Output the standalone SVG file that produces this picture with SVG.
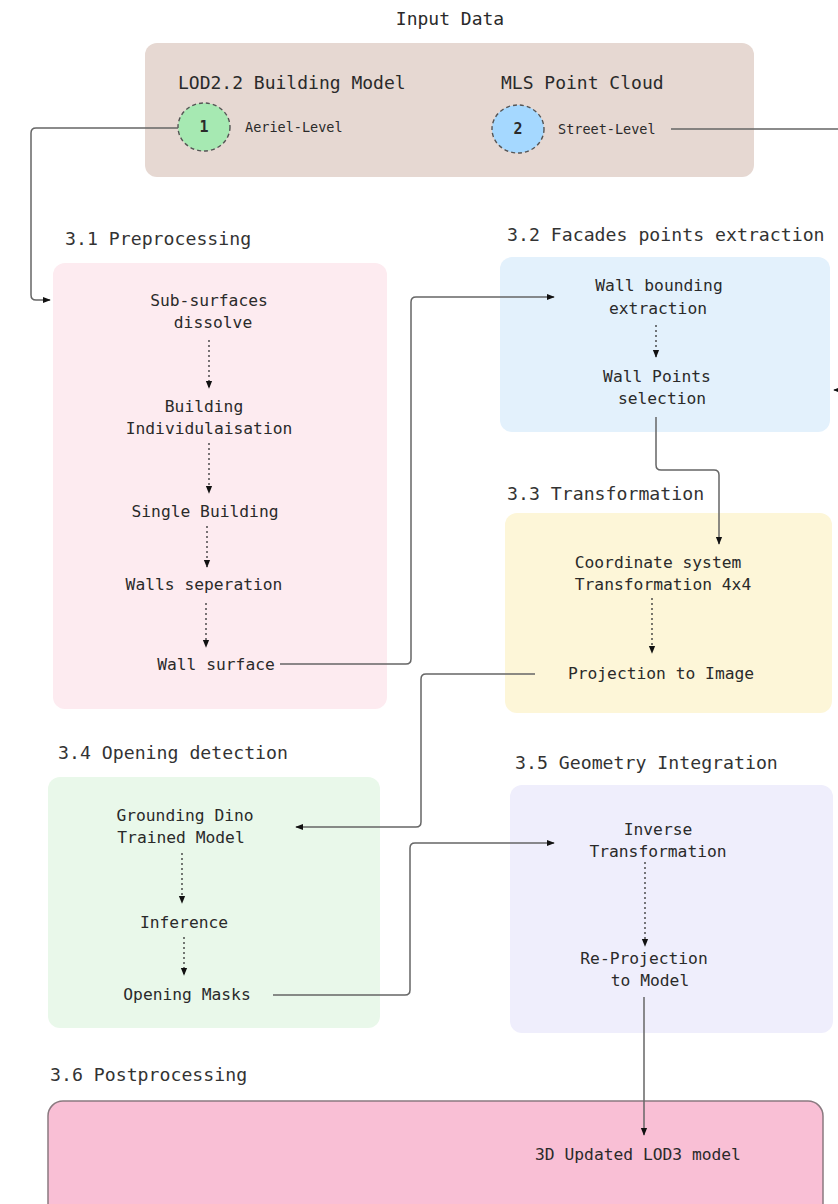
<svg xmlns="http://www.w3.org/2000/svg" width="838" height="1204" viewBox="0 0 838 1204">
<defs>
<style>
.t{font-family:"DejaVu Sans Mono","Liberation Mono",monospace;fill:#2a2a2a;text-anchor:middle;dominant-baseline:central}
.n{font-size:16.3px}
.h{font-size:18.2px;text-anchor:start;fill:#333}
.s{font-size:13.5px;text-anchor:start}
.c{fill:none;stroke:#666;stroke-width:1.5}
.d{fill:none;stroke:#333;stroke-width:1.3;stroke-dasharray:2 3}
</style>
<marker id="ar" viewBox="0 0 10 10" refX="9" refY="5" markerWidth="8" markerHeight="8" markerUnits="userSpaceOnUse" orient="auto">
<path d="M0,1 L10,5 L0,9 Z" fill="#111"/>
</marker>
</defs>
<rect width="838" height="1204" fill="#ffffff"/>

<g id="input">
<text class="t" x="450" y="18" style="font-size:18px">Input Data</text>
<rect x="145" y="43" width="609" height="134" rx="12" fill="#e6d8d2"/>
<text class="t h" x="178" y="82" style="font-size:18px;fill:#2a2a2a">LOD2.2 Building Model</text>
<text class="t h" x="501" y="82" style="font-size:18px;fill:#2a2a2a">MLS Point Cloud</text>
</g>
<g id="n1">
<ellipse cx="204" cy="127" rx="26" ry="24" fill="#a6e9b2" stroke="#555" stroke-width="1.4" stroke-dasharray="4 3"/>
<text class="t" x="204" y="127" style="font-size:15px;font-weight:bold">1</text>
<text class="t s" x="245" y="127">Aeriel-Level</text>
</g>
<g id="n2">
<ellipse cx="518" cy="129" rx="26" ry="24" fill="#a5d8ff" stroke="#555" stroke-width="1.4" stroke-dasharray="4 3"/>
<text class="t" x="518" y="129" style="font-size:15px;font-weight:bold">2</text>
<text class="t s" x="558" y="129">Street-Level</text>
</g>

<g id="preprocessing">
<text class="t h" x="65" y="238">3.1 Preprocessing</text>
<rect x="53" y="263" width="334" height="446" rx="12" fill="#fdebf0"/>
<text class="t n" x="209" y="300">Sub-surfaces</text>
<text class="t n" x="213" y="322">dissolve</text>
<text class="t n" x="204" y="406">Building</text>
<text class="t n" x="209" y="428">Individulaisation</text>
<text class="t n" x="205" y="511">Single Building</text>
<text class="t n" x="204" y="584">Walls seperation</text>
<text class="t n" x="216" y="664">Wall surface</text>
</g>

<g id="facades">
<text class="t h" x="507" y="234">3.2 Facades points extraction</text>
<rect x="500" y="257" width="330" height="175" rx="12" fill="#e3f1fc"/>
<text class="t n" x="659" y="285">Wall bounding</text>
<text class="t n" x="658" y="308">extraction</text>
<text class="t n" x="657" y="376">Wall Points</text>
<text class="t n" x="662" y="398">selection</text>
</g>

<g id="transformation">
<text class="t h" x="507" y="493">3.3 Transformation</text>
<rect x="505" y="513" width="327" height="200" rx="12" fill="#fdf6d8"/>
<text class="t n" x="658" y="562">Coordinate system</text>
<text class="t n" x="663" y="584">Transformation 4x4</text>
<text class="t n" x="661" y="673">Projection to Image</text>
</g>

<g id="opening">
<text class="t h" x="58" y="752">3.4 Opening detection</text>
<rect x="48" y="777" width="332" height="251" rx="12" fill="#e9f8ea"/>
<text class="t n" x="185" y="815">Grounding Dino</text>
<text class="t n" x="181" y="837">Trained Model</text>
<text class="t n" x="184" y="922">Inference</text>
<text class="t n" x="187" y="994">Opening Masks</text>
</g>

<g id="geometry">
<text class="t h" x="515" y="762">3.5 Geometry Integration</text>
<rect x="510" y="785" width="323" height="248" rx="12" fill="#efeefc"/>
<text class="t n" x="658" y="829">Inverse</text>
<text class="t n" x="658" y="851">Transformation</text>
<text class="t n" x="644" y="958">Re-Projection</text>
<text class="t n" x="650" y="980">to Model</text>
</g>

<g id="postprocessing">
<text class="t h" x="50" y="1074">3.6 Postprocessing</text>
<rect x="48" y="1101" width="775" height="120" rx="15" fill="#f9bfd5" stroke="#8a7a80" stroke-width="1.5"/>
<text class="t n" x="638" y="1154">3D Updated LOD3 model</text>
</g>

<g id="connectors">
<path class="c" d="M178 128 H36 Q31 128 31 133 V295 Q31 300 36 300 H50" marker-end="url(#ar)"/>
<path class="c" d="M671 129 H850 V390 H834" marker-end="url(#ar)"/>
<path class="c" d="M280 664 H406 Q411 664 411 659 V302 Q411 297 416 297 H554" marker-end="url(#ar)"/>
<path class="c" d="M656 417 V465 Q656 470 661 470 H714 Q719 470 719 475 V544" marker-end="url(#ar)"/>
<path class="c" d="M535 674 H426 Q421 674 421 679 V822 Q421 827 416 827 H296" marker-end="url(#ar)"/>
<path class="c" d="M273 995 H405 Q410 995 410 990 V848 Q410 843 415 843 H554" marker-end="url(#ar)"/>
<path class="c" d="M644 997 V1135" marker-end="url(#ar)"/>
<path class="d" d="M209 340 V388" marker-end="url(#ar)"/>
<path class="d" d="M209 443 V493" marker-end="url(#ar)"/>
<path class="d" d="M207 526 V567" marker-end="url(#ar)"/>
<path class="d" d="M206 603 V647" marker-end="url(#ar)"/>
<path class="d" d="M656 325 V357" marker-end="url(#ar)"/>
<path class="d" d="M652 598 V653" marker-end="url(#ar)"/>
<path class="d" d="M182 853 V903" marker-end="url(#ar)"/>
<path class="d" d="M184 937 V975" marker-end="url(#ar)"/>
<path class="d" d="M645 862 V946" marker-end="url(#ar)"/>
</g>
</svg>
